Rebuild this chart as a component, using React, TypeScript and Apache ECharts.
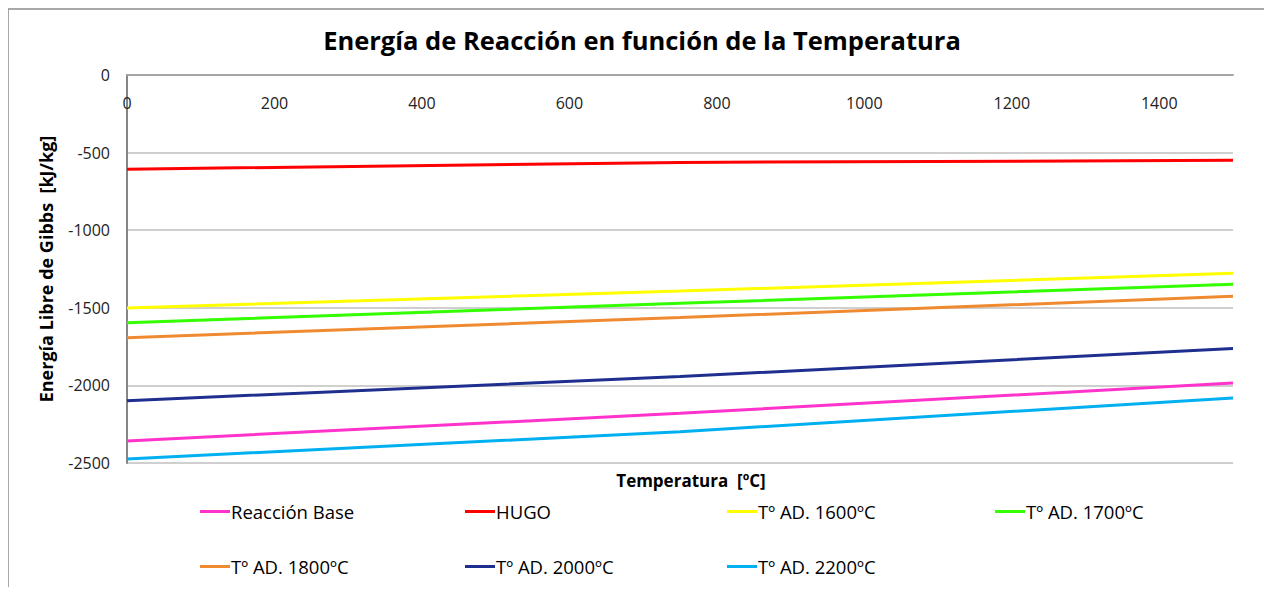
import React, { useEffect, useRef } from "react";
import * as echarts from "echarts";

const temperatures = [0, 750, 1500];
const seriesNames = [
  "Reacción Base",
  "HUGO",
  "Tº AD. 1600ºC",
  "Tº AD. 1700ºC",
  "Tº AD. 1800ºC",
  "Tº AD. 2000ºC",
  "Tº AD. 2200ºC",
];
const reaccionBase = [-2358, -2180, -1985];
const hugo = [-607, -563, -550];
const ad1600 = [-1501, -1392, -1278];
const ad1700 = [-1596, -1471, -1349];
const ad1800 = [-1693, -1563, -1426];
const ad2000 = [-2099, -1943, -1763];
const ad2200 = [-2474, -2298, -2081];
const seriesColors = ["#ff33cc", "#ff0000", "#ffff00", "#33ff00", "#f08a30", "#1f2f8f", "#00b0f0"];
const xTicks = [0, 200, 400, 600, 800, 1000, 1200, 1400];
const yTicks = [0, -500, -1000, -1500, -2000, -2500];

const FONT = "'Open Sans', 'Noto Sans', sans-serif";
const legendLeft = [195, 460, 722, 990, 195, 460, 722];
const legendTop = [497, 497, 497, 497, 552, 552, 552];

export default function App() {
  const ref = useRef<HTMLDivElement>(null);
  useEffect(() => {
    if (!ref.current) return;
    const chart = echarts.init(ref.current, undefined, { renderer: "svg" });
    const values = [reaccionBase, hugo, ad1600, ad1700, ad1800, ad2000, ad2200];
    chart.setOption({
      animation: false,
      backgroundColor: "#fff",
      title: [
        {
          text: "Energía de Reacción en función de la Temperatura",
          left: 637,
          textAlign: "center",
          top: 22,
          textStyle: { fontFamily: FONT, fontSize: 25.5, fontWeight: "bold", color: "#000" },
        },
        {
          text: "Temperatura  [ºC]",
          left: 686,
          textAlign: "center",
          top: 467,
          textStyle: { fontFamily: FONT, fontSize: 17, fontWeight: "bold", color: "#000" },
        },
      ],
      graphic: [
        {
          type: "rect",
          shape: { x: 8, y: 9, width: 1260, height: 620 },
          style: { fill: "none", stroke: "#8c8c8c", lineWidth: 1.5 },
          silent: true,
        },
      ],
      legend: seriesNames.map((name, i) => ({
        data: [name],
        left: legendLeft[i],
        top: legendTop[i],
        icon: "rect",
        itemWidth: 30,
        itemHeight: 3,
        itemGap: 4,
        textStyle: { fontFamily: FONT, fontSize: 18.5, color: "#000", padding: [0, 0, 0, -4] },
      })),
      grid: { left: 127, right: 39, top: 75, bottom: 132, outerBoundsMode: "none", containLabel: false },
      xAxis: {
        type: "value",
        min: 0,
        max: 1500,
        interval: 200,
        position: "top",
        axisLine: { onZero: false, lineStyle: { color: "#a6a6a6", width: 2 } },
        axisTick: { show: false },
        splitLine: { show: false },
        axisLabel: {
          inside: true,
          margin: 20,
          fontFamily: FONT,
          fontSize: 16,
          color: "#222",
          showMaxLabel: false,
          formatter: (v: number) => (xTicks.includes(v) ? String(v) : ""),
        },
      },
      yAxis: {
        type: "value",
        min: -2500,
        max: 0,
        interval: 500,
        axisLine: { show: true, lineStyle: { color: "#868686", width: 2 } },
        axisTick: { show: false },
        splitLine: { lineStyle: { color: "#bfbfbf", width: 1.5 } },
        axisLabel: {
          margin: 17,
          fontFamily: FONT,
          fontSize: 16,
          color: "#222",
          formatter: (v: number) => (yTicks.includes(v) ? String(v) : ""),
        },
        name: "Energía Libre de Gibbs  [kJ/kg]",
        nameLocation: "middle",
        nameGap: 72,
        nameTextStyle: { fontFamily: FONT, fontSize: 18, fontWeight: "bold", color: "#000" },
      },
      series: seriesNames.map((name, i) => ({
        name,
        type: "line",
        data: temperatures.map((t, j) => [t, values[i][j]]),
        showSymbol: false,
        symbol: "none",
        lineStyle: { color: seriesColors[i], width: 3 },
        itemStyle: { color: seriesColors[i] },
      })),
    });
    return () => chart.dispose();
  }, []);
  return <div ref={ref} style={{ width: 1272, height: 595, margin: -8 }} />;
}
